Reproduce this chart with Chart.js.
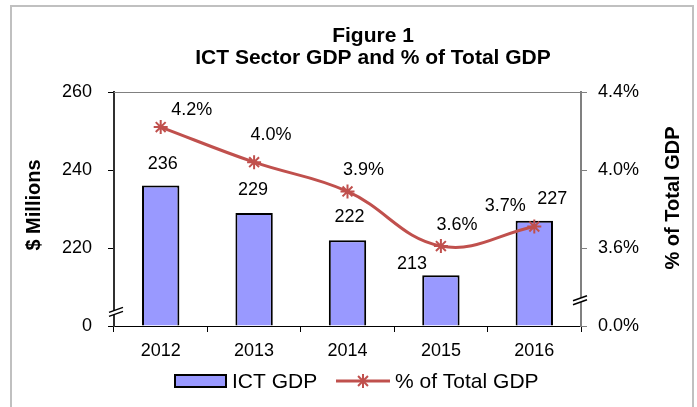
<!DOCTYPE html>
<html>
<head>
<meta charset="utf-8">
<script src="https://cdn.jsdelivr.net/npm/chart.js@4"></script>
<style>
  html, body { margin: 0; padding: 0; background: #fff; }
  #wrap  { position: relative; width: 697px; height: 407px; overflow: hidden; }
  #frame { position: absolute; left: 10px; top: 5px; width: 680px; height: 420px; border: 2px solid #c0c0c0; }
  canvas { position: absolute; left: 0; top: 0; }
</style>
</head>
<body>
<div id="wrap">
  <div id="frame"></div>
  <canvas id="chart" width="697" height="407"></canvas>
</div>
<script>
/* ────────────────────────────────────────
   DATA
──────────────────────────────────────── */
const years     = ['2012', '2013', '2014', '2015', '2016'];
const ictGdp    = [236, 229, 222, 213, 227];          // $ millions
const pctTotal  = [4.22, 4.04, 3.89, 3.61, 3.71];     // % of total GDP
const gdpTicks  = [200, 220, 240, 260];               // 200 is printed as "0" (broken axis)
const pctTicks  = [3.2, 3.6, 4.0, 4.4];               // 3.2 is printed as "0.0%"
const titleLines = ['Figure 1', 'ICT Sector GDP and % of Total GDP'];

/* ────────────────────────────────────────
   LOOK
──────────────────────────────────────── */
const FONT    = '"Liberation Sans", Arial, sans-serif';
const BAR_COL = '#9999FF';
const LINE_COL = '#C0504D';

// label nudges (px) relative to bar top / line point
const barLabelOff  = [[2, -22], [-1, -23], [2, -23], [-29, -11], [18, -22]];
const lineLabelOff = [[31, -17], [17, -27], [16, -21], [16, -21], [-29, -21]];

function drawStar(ctx, x, y, r, col, w) {
  ctx.save();
  ctx.strokeStyle = col; ctx.lineWidth = w;
  ctx.beginPath();
  for (let k = 0; k < 4; k++) {
    const a = k * Math.PI / 4;
    ctx.moveTo(x - r * Math.cos(a), y - r * Math.sin(a));
    ctx.lineTo(x + r * Math.cos(a), y + r * Math.sin(a));
  }
  ctx.stroke();
  ctx.restore();
}

function drawBreak(ctx, x, y) {
  ctx.save();
  ctx.fillStyle = '#fff';
  ctx.beginPath();
  ctx.moveTo(x - 7, y + 2); ctx.lineTo(x + 7, y - 3);
  ctx.lineTo(x + 7, y + 1); ctx.lineTo(x - 7, y + 6);
  ctx.closePath(); ctx.fill();
  ctx.strokeStyle = '#000'; ctx.lineWidth = 1.5;
  ctx.beginPath();
  ctx.moveTo(x - 7, y + 2); ctx.lineTo(x + 7, y - 3);
  ctx.moveTo(x - 7, y + 6); ctx.lineTo(x + 7, y + 1);
  ctx.stroke();
  ctx.restore();
}

const decor = {
  id: 'decor',
  afterDraw(chart) {
    const { ctx, chartArea: a, scales } = chart;
    const bars  = chart.getDatasetMeta(0).data;
    const pts   = chart.getDatasetMeta(1).data;

    // plot frame top
    ctx.save();
    ctx.strokeStyle = '#808080'; ctx.lineWidth = 1;
    ctx.beginPath(); ctx.moveTo(a.left, a.top + 0.5); ctx.lineTo(a.right, a.top + 0.5); ctx.stroke();
    ctx.restore();

    // axis breaks
    drawBreak(ctx, a.left + 2, scales.y.getPixelForValue(204));
    drawBreak(ctx, a.right - 1, scales.y1.getPixelForValue(3.34));

    // data labels
    ctx.save();
    ctx.fillStyle = '#000';
    ctx.font = `18px ${FONT}`;
    ctx.textAlign = 'center'; ctx.textBaseline = 'middle';
    bars.forEach((b, i) => {
      ctx.fillText(String(ictGdp[i]), b.x + barLabelOff[i][0], b.y + barLabelOff[i][1]);
    });
    pts.forEach((p, i) => {
      ctx.fillText(pctTotal[i].toFixed(1) + '%', p.x + lineLabelOff[i][0], p.y + lineLabelOff[i][1]);
    });

    // title
    ctx.font = `bold 21px ${FONT}`;
    ctx.textBaseline = 'alphabetic';
    ctx.fillText(titleLines[0], 373, 42);
    ctx.fillText(titleLines[1], 373, 64);

    // axis titles
    ctx.font = `bold 20px ${FONT}`;
    ctx.textBaseline = 'middle';
    ctx.save(); ctx.translate(34, 205); ctx.rotate(-Math.PI / 2);
    ctx.fillText('$ Millions', 0, 0); ctx.restore();
    ctx.save(); ctx.translate(673, 198); ctx.rotate(-Math.PI / 2);
    ctx.fillText('% of Total GDP', 0, 0); ctx.restore();

    // legend
    const ly = 381;
    ctx.fillStyle = BAR_COL; ctx.fillRect(175, ly - 6, 51, 12);
    ctx.strokeStyle = '#000'; ctx.lineWidth = 2; ctx.strokeRect(175, ly - 6, 51, 12);
    ctx.fillStyle = '#000';
    ctx.font = `21px ${FONT}`;
    ctx.textAlign = 'left'; ctx.textBaseline = 'alphabetic';
    ctx.fillText(chart.data.datasets[0].label, 232, ly + 7);
    ctx.strokeStyle = LINE_COL; ctx.lineWidth = 3;
    ctx.beginPath(); ctx.moveTo(336, ly); ctx.lineTo(390, ly); ctx.stroke();
    drawStar(ctx, 363, ly, 7, LINE_COL, 2);
    ctx.fillText(chart.data.datasets[1].label, 395, ly + 7);
    ctx.restore();
  }
};

Chart.defaults.font.family = FONT;
Chart.defaults.color = '#000';

new Chart(document.getElementById('chart'), {
  data: {
    labels: years,
    datasets: [
      {
        type: 'bar', label: 'ICT GDP', data: ictGdp, yAxisID: 'y', order: 2,
        base: gdpTicks[0],
        backgroundColor: BAR_COL, borderColor: '#000', borderWidth: 2,
        barPercentage: 0.4, categoryPercentage: 1.0,
      },
      {
        type: 'line', label: '% of Total GDP', data: pctTotal, yAxisID: 'y1', order: 1,
        borderColor: LINE_COL, borderWidth: 3, tension: 0.4,
        pointStyle: 'star', pointRadius: 7, pointBorderWidth: 2,
        pointBorderColor: LINE_COL, pointBackgroundColor: LINE_COL,
      },
    ],
  },
  options: {
    responsive: false, animation: false,
    layout: { padding: { top: 92, bottom: 41, left: 0, right: 0 } },
    plugins: { legend: { display: false }, title: { display: false }, tooltip: { enabled: false } },
    scales: {
      x: {
        offset: true,
        grid:   { offset: true, drawOnChartArea: false, tickLength: 6, color: '#000' },
        border: { color: '#000', width: 1 },
        ticks:  { padding: 8, font: { size: 18 } },
        afterFit: s => { s.height = 40; },
      },
      y: {
        position: 'left', min: gdpTicks[0], max: gdpTicks[gdpTicks.length - 1],
        afterBuildTicks: s => { s.ticks = gdpTicks.map(v => ({ value: v })); },
        afterFit: s => { s.width = 114; },
        grid:   { drawOnChartArea: false, tickLength: 6, color: '#000' },
        border: { color: '#303030', width: 2 },
        ticks:  { padding: 16, font: { size: 18 }, callback: v => v === gdpTicks[0] ? '0' : String(v) },
      },
      y1: {
        position: 'right', min: pctTicks[0], max: pctTicks[pctTicks.length - 1],
        afterBuildTicks: s => { s.ticks = pctTicks.map(v => ({ value: v })); },
        afterFit: s => { s.width = 116; },
        grid:   { drawOnChartArea: false, tickLength: 6, color: '#808080' },
        border: { color: '#808080', width: 2 },
        ticks:  { padding: 11, font: { size: 18 },
                  callback: v => Math.abs(v - pctTicks[0]) < 1e-6 ? '0.0%' : v.toFixed(1) + '%' },
      },
    },
  },
  plugins: [decor],
});
</script>
</body>
</html>
